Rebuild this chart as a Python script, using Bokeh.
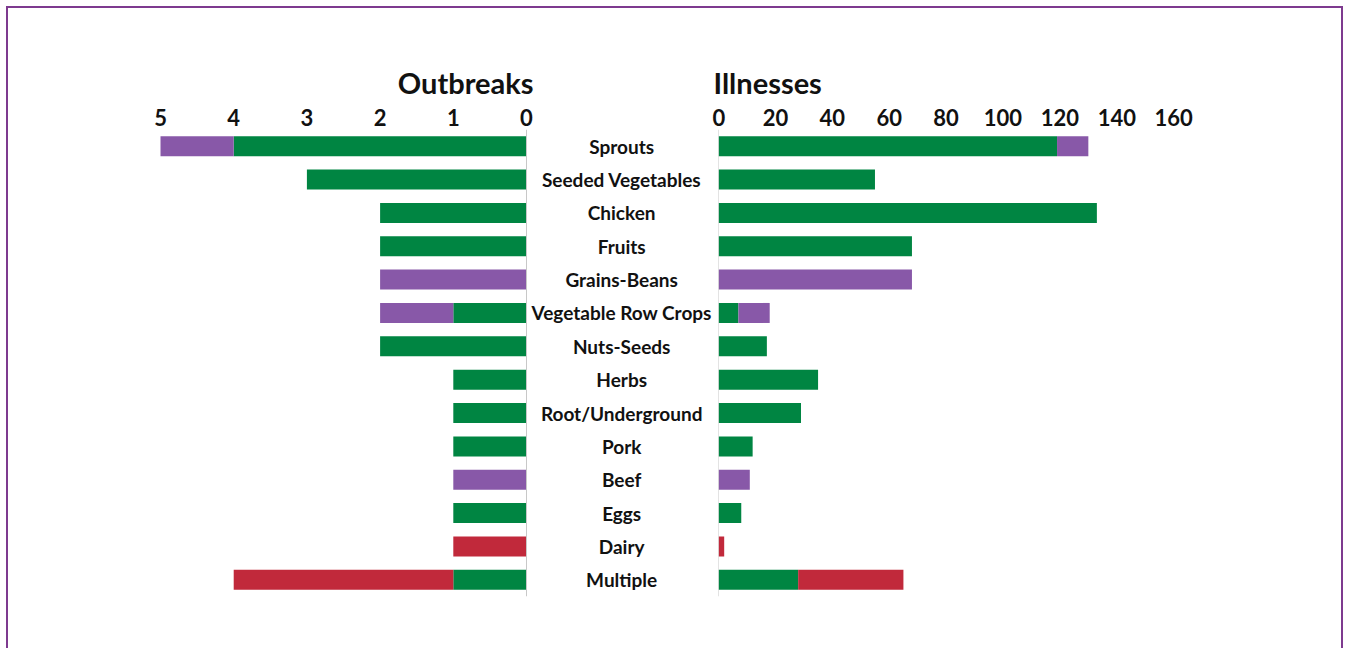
from bokeh.plotting import figure
from bokeh.models import Range1d, FactorRange, FixedTicker, Span, ColumnDataSource, Title
from bokeh.layouts import row
from bokeh.embed import file_html
from bokeh.resources import INLINE

# ---------------- data ----------------
categories = ["Sprouts", "Seeded Vegetables", "Chicken", "Fruits", "Grains-Beans",
              "Vegetable Row Crops", "Nuts-Seeds", "Herbs", "Root/Underground",
              "Pork", "Beef", "Eggs", "Dairy", "Multiple"]

out_green  = [4, 3, 2, 2, 0, 1, 2, 1, 1, 1, 0, 1, 0, 1]
out_purple = [1, 0, 0, 0, 2, 1, 0, 0, 0, 0, 1, 0, 0, 0]
out_red    = [0, 0, 0, 0, 0, 0, 0, 0, 0, 0, 0, 0, 1, 3]

ill_green  = [119, 55, 133, 68, 0, 7, 17, 35, 29, 12, 0, 8, 0, 28]
ill_purple = [11, 0, 0, 0, 68, 11, 0, 0, 0, 0, 11, 0, 0, 0]
ill_red    = [0, 0, 0, 0, 0, 0, 0, 0, 0, 0, 0, 0, 2, 37]

out_ticks = [0, 1, 2, 3, 4, 5]
ill_ticks = [0, 20, 40, 60, 80, 100, 120, 140, 160]

# ---------------- style ----------------
GREEN, PURPLE, RED = "#008542", "#8858A8", "#C1293B"
FONT = "Lato"
AXIS_GRAY = "#C8C8C8"
BORDER = "#7E3A8F"
TXT = "#111111"

src = ColumnDataSource(dict(cat=categories,
                            og=out_green, op=out_purple, orr=out_red,
                            ig=ill_green, ip=ill_purple, ir=ill_red,
                            lx=[-1.3] * len(categories)))

def style(p, ticks):
    p.xaxis.ticker = FixedTicker(ticks=ticks)
    p.xaxis.axis_line_color = None
    p.xaxis.major_tick_line_color = None
    p.xaxis.minor_tick_line_color = None
    p.xaxis.major_label_standoff = -2
    p.xaxis.major_label_text_font = FONT
    p.xaxis.major_label_text_font_style = "bold"
    p.xaxis.major_label_text_font_size = "22px"
    p.xaxis.major_label_text_color = TXT
    p.yaxis.visible = False
    p.xgrid.visible = False
    p.ygrid.visible = False
    p.outline_line_color = None
    p.add_layout(Span(location=0, dimension="height", line_color=AXIS_GRAY, line_width=1))

# ---------------- left: outbreaks ----------------
pL = figure(width=704, height=640, x_range=Range1d(5.205, -2.541),
            y_range=FactorRange(factors=categories[::-1], range_padding=0),
            x_axis_location="above", output_backend="svg", toolbar_location=None,
            min_border_left=137, min_border_right=0, min_border_top=121, min_border_bottom=52,
            title=Title(text="Outbreaks", align="right", offset=179, standoff=12,
                        text_font=FONT, text_font_style="bold", text_font_size="29px",
                        text_color=TXT))
pL.hbar_stack(["og", "op", "orr"], y="cat", height=0.6, color=[GREEN, PURPLE, RED],
              line_color=None, source=src)
pL.text(x="lx", y="cat", text="cat", source=src, text_align="center",
        text_baseline="middle", text_font={"value": FONT}, text_font_style="bold",
        text_font_size="19px", text_color=TXT)
style(pL, out_ticks)

# ---------------- right: illnesses ----------------
pR = figure(width=629, height=640, x_range=Range1d(0, 175.4),
            y_range=FactorRange(factors=categories[::-1], range_padding=0),
            x_axis_location="above", output_backend="svg", toolbar_location=None,
            min_border_left=6, min_border_right=124, min_border_top=121, min_border_bottom=52,
            title=Title(text="Illnesses", align="left", offset=-5, standoff=12,
                        text_font=FONT, text_font_style="bold", text_font_size="29px",
                        text_color=TXT))
pR.hbar_stack(["ig", "ip", "ir"], y="cat", height=0.6, color=[GREEN, PURPLE, RED],
              line_color=None, source=src)
style(pR, ill_ticks)

layout = row(pL, pR, margin=(6, 0, 0, 6),
             styles={"border-top": f"2px solid {BORDER}",
                     "border-left": f"2px solid {BORDER}",
                     "border-right": f"2px solid {BORDER}"})

open("out.html", "w").write(file_html(layout, INLINE))
